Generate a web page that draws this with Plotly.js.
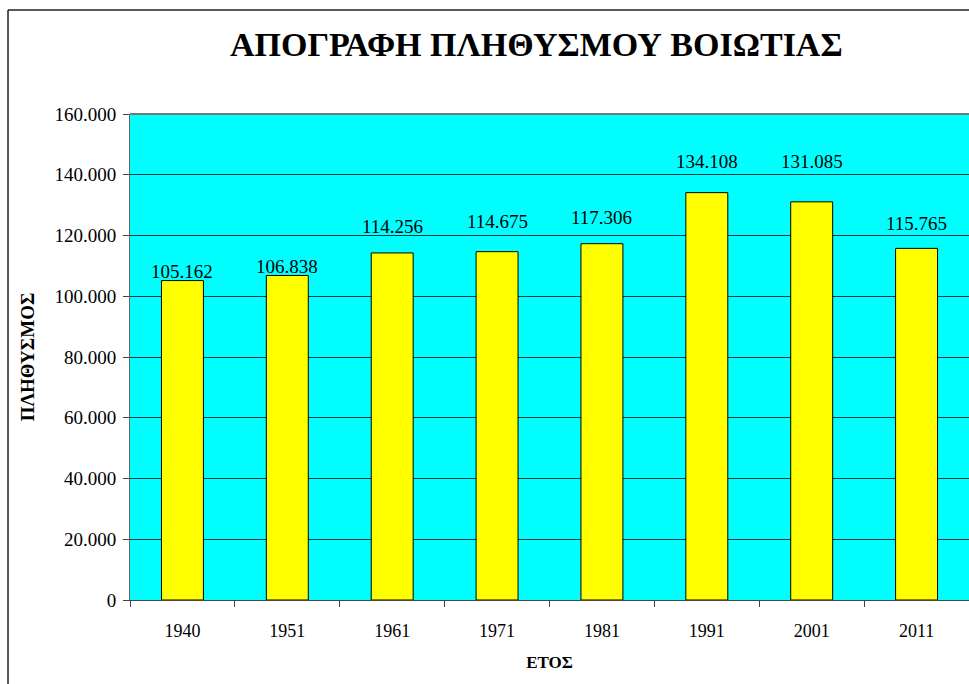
<!DOCTYPE html>
<html>
<head>
<meta charset="utf-8">
<script src="https://cdn.plot.ly/plotly-3.0.1.min.js"></script>
<style>html,body{margin:0;padding:0;background:#fff;overflow:hidden}</style>
</head>
<body>
<div id="chart" style="width:969px;height:684px"></div>
<script>
const years = ['1940','1951','1961','1971','1981','1991','2001','2011'];
const population = [105162, 106838, 114256, 114675, 117306, 134108, 131085, 115765];
const yTicks = [0, 20000, 40000, 60000, 80000, 100000, 120000, 140000, 160000];
// pixel shift of each value label above its bar top (as placed in the original)
const labelShift = [9, 9, 26, 30, 26, 31, 40, 25];

const serif = '"Liberation Serif", "Times New Roman", serif';

function fmt(v) {
  return String(v).replace(/\B(?=(\d{3})+(?!\d))/g, '.');
}

const trace = {
  type: 'bar',
  x: years,
  y: population,
  width: 0.4,
  marker: {color: '#ffff00', line: {color: '#000', width: 1}},
  hoverinfo: 'skip'
};

const annotations = years.map((yr, i) => ({
  x: i, y: population[i], xref: 'x', yref: 'y',
  text: fmt(population[i]),
  showarrow: false, xanchor: 'center', yanchor: 'middle', yshift: labelShift[i],
  font: {family: serif, size: 19, color: '#000'}
}));

annotations.push({
  xref: 'paper', yref: 'paper', x: 0.485, y: 1.142, xanchor: 'center', yanchor: 'middle',
  text: '<b>ΑΠΟΓΡΑΦΗ ΠΛΗΘΥΣΜΟΥ ΒΟΙΩΤΙΑΣ</b>', showarrow: false,
  font: {family: serif, size: 34, color: '#000'}
});

const layout = {
  width: 969, height: 684,
  margin: {l: 130, r: 0, t: 114, b: 84},
  paper_bgcolor: '#fff',
  plot_bgcolor: '#00ffff',
  separators: ',.',
  showlegend: false,
  xaxis: {
    type: 'category',
    tickson: 'boundaries',
    ticks: 'outside', ticklen: 6, tickcolor: '#444', tickwidth: 1,
    ticklabelstandoff: 14,
    showgrid: false,
    showline: true, linecolor: '#444', linewidth: 1,
    tickfont: {family: serif, size: 18, color: '#000'},
    title: {text: '<b>ΕΤΟΣ</b>', font: {family: serif, size: 17, color: '#000'}, standoff: 16},
    range: [-0.5, 7.5],
    automargin: false
  },
  yaxis: {
    range: [0, 160000],
    tickvals: yTicks,
    tickformat: ',d',
    ticks: 'outside', ticklen: 6, tickcolor: '#444', tickwidth: 1,
    ticklabelstandoff: 3,
    showgrid: true, gridcolor: '#003a3a', gridwidth: 1,
    showline: true, linecolor: '#666', linewidth: 1,
    zeroline: false,
    tickfont: {family: serif, size: 19, color: '#000'},
    title: {text: '<b>ΠΛΗΘΥΣΜΟΣ</b>', font: {family: serif, size: 19, color: '#000'}, standoff: 14},
    automargin: false
  },
  shapes: [
    {type: 'line', xref: 'paper', yref: 'paper', x0: 0, x1: 1.01, y0: 1, y1: 1, line: {color: '#777', width: 2}},
    {type: 'line', xref: 'paper', yref: 'paper', x0: -0.1454, x1: -0.1454, y0: 1.214, y1: -0.2, line: {color: '#222', width: 1.5}},
    {type: 'line', xref: 'paper', yref: 'paper', x0: -0.1454, x1: 1.01, y0: 1.214, y1: 1.214, line: {color: '#222', width: 1.5}}
  ],
  annotations: annotations
};

Plotly.newPlot('chart', [trace], layout, {displayModeBar: false, staticPlot: true});
</script>
</body>
</html>
